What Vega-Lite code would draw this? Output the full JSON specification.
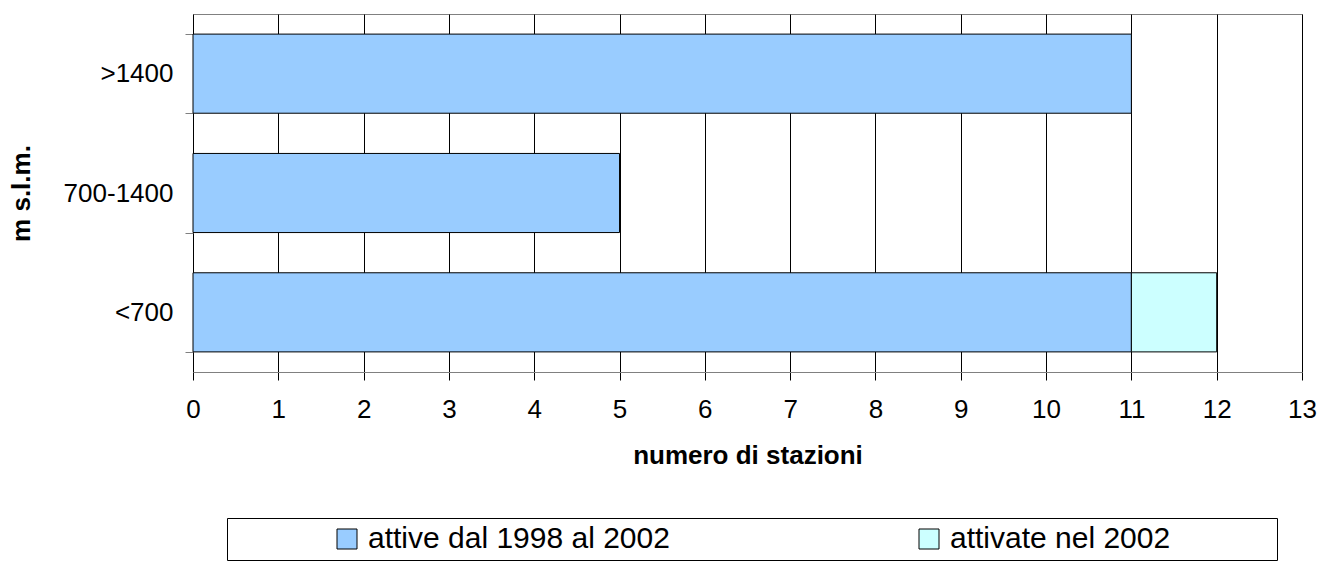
{
  "$schema": "https://vega.github.io/schema/vega-lite/v6.json",
  "width": 1109,
  "height": 358,
  "autosize": {"type": "none"},
  "padding": {"left": 193, "top": 14, "right": 19, "bottom": 189},
  "background": "white",
  "config": {
    "font": "Liberation Sans",
    "view": {"stroke": "#808080", "strokeWidth": 1}
  },
  "data": {
    "values": [
      {"quota": ">1400", "serie": "attive dal 1998 al 2002", "n": 11},
      {"quota": "700-1400", "serie": "attive dal 1998 al 2002", "n": 5},
      {"quota": "<700", "serie": "attive dal 1998 al 2002", "n": 11},
      {"quota": "<700", "serie": "attivate nel 2002", "n": 1}
    ]
  },
  "mark": {"type": "bar", "stroke": "black", "strokeWidth": 1},
  "encoding": {
    "y": {
      "field": "quota",
      "type": "nominal",
      "sort": [">1400", "700-1400", "<700"],
      "scale": {"paddingInner": 0.337, "paddingOuter": 0.1685},
      "axis": {
        "title": "m s.l.m.",
        "titleFont": "Liberation Sans",
        "titleFontSize": 26,
        "titleFontWeight": "bold",
        "titleColor": "black",
        "titlePadding": 29,
        "labelFont": "Liberation Sans",
        "labelFontSize": 26,
        "labelColor": "black",
        "labelPadding": 12,
        "domain": false,
        "tickBand": "extent",
        "tickColor": "#808080",
        "tickSize": 8,
        "grid": false
      }
    },
    "x": {
      "field": "n",
      "type": "quantitative",
      "stack": "zero",
      "scale": {"domain": [0, 13], "nice": false},
      "axis": {
        "title": "numero di stazioni",
        "titleFont": "Liberation Sans",
        "titleFontSize": 26,
        "titleFontWeight": "bold",
        "titleColor": "black",
        "titlePadding": 20,
        "values": [0, 1, 2, 3, 4, 5, 6, 7, 8, 9, 10, 11, 12, 13],
        "labelFont": "Liberation Sans",
        "labelFontSize": 26,
        "labelColor": "black",
        "labelPadding": 16,
        "labelFlush": false,
        "domainColor": "#808080",
        "tickColor": "black",
        "tickSize": 8,
        "grid": true,
        "gridColor": "black",
        "gridOpacity": 1,
        "gridWidth": 1
      }
    },
    "color": {
      "field": "serie",
      "type": "nominal",
      "scale": {
        "domain": ["attive dal 1998 al 2002", "attivate nel 2002"],
        "range": ["#99CCFF", "#CCFFFF"]
      },
      "legend": {
        "orient": "none",
        "legendX": 34,
        "legendY": 504,
        "direction": "horizontal",
        "columns": 2,
        "title": "\u00a0",
        "titleOrient": "right",
        "titlePadding": 101,
        "titleFontSize": 30,
        "strokeColor": "black",
        "fillColor": "white",
        "padding": 6,
        "symbolType": "square",
        "symbolSize": 400,
        "symbolStrokeColor": "black",
        "symbolStrokeWidth": 1,
        "symbolOffset": 99,
        "labelFont": "Liberation Sans",
        "labelFontSize": 30,
        "labelColor": "black",
        "labelOffset": 6,
        "labelLimit": 500,
        "columnPadding": 145
      }
    },
    "order": {"field": "serie", "sort": "descending"}
  }
}
